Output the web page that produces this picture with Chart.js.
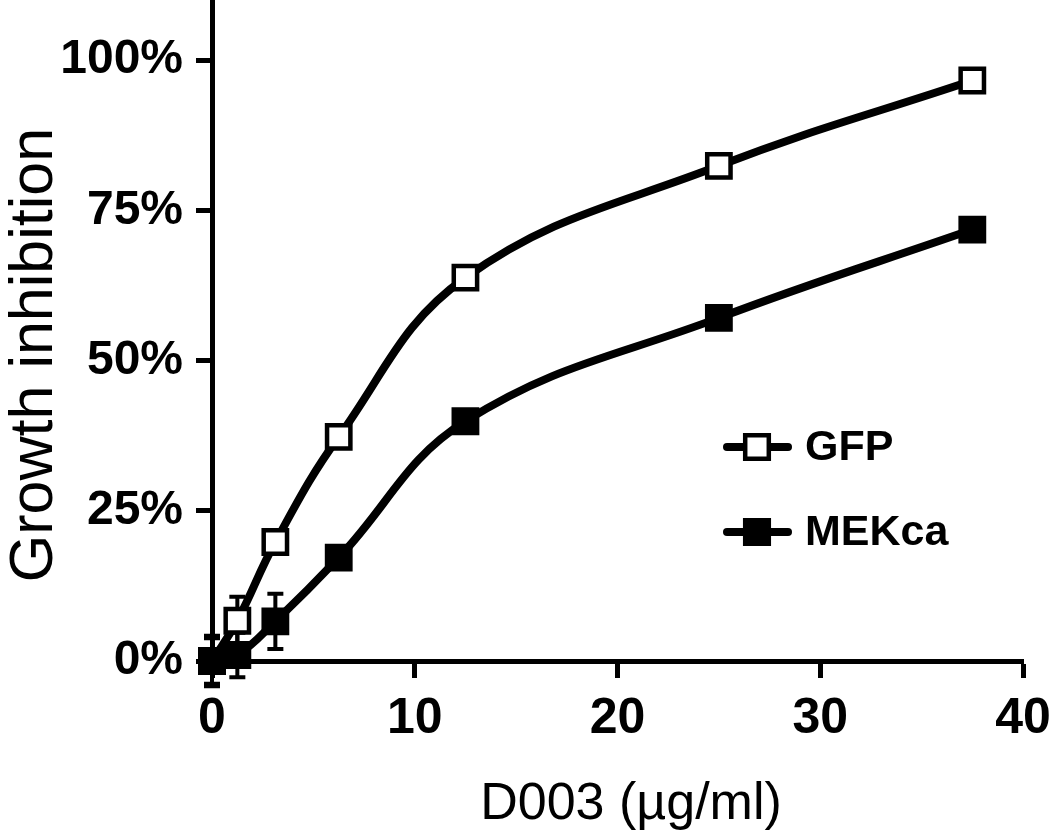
<!DOCTYPE html>
<html>
<head>
<meta charset="utf-8">
<script src="https://cdn.jsdelivr.net/npm/chart.js@4.4.1/dist/chart.umd.min.js"></script>
<style>
  html, body { margin: 0; padding: 0; background: #ffffff; }
  #wrap { width: 1050px; height: 830px; }
</style>
</head>
<body>
<div id="wrap"><canvas id="c" width="1050" height="830"></canvas></div>
<script>
// ---- data ----
const doses = [0, 1.25, 3.125, 6.25, 12.5, 25, 37.5];
const gfpValues = [0, 6.7, 19.8, 37.3, 63.8, 82.4, 96.6];
const mekValues = [0, 1.0, 6.6, 17.2, 39.9, 57.1, 71.8];
const gfpErrors = [3.8, 4.0, 1.5, 1.5, 1.5, 1.5, 1.5];
const mekErrors = [4.2, 3.7, 4.6, 1.5, 1.5, 1.5, 1.5];
const seriesNames = ['GFP', 'MEKca'];
const xTickValues = [0, 10, 20, 30, 40];
const yTickValues = [0, 25, 50, 75, 100];
const xTitle = 'D003 (\u00b5g/ml)';
const yTitle = 'Growth inhibition';

const FONT = "'Liberation Sans', Arial, Helvetica, sans-serif";

function toPoints(xs, ys) { return xs.map((x, i) => ({ x: x, y: ys[i] })); }

const errorBars = {
  id: 'errorBars',
  beforeDatasetsDraw(chart) {
    const ctx = chart.ctx;
    const xs = chart.scales.x, ys = chart.scales.y;
    const errs = [gfpErrors, mekErrors];
    ctx.save();
    ctx.strokeStyle = '#000';
    ctx.lineWidth = 4;
    chart.data.datasets.forEach((ds, di) => {
      ds.data.forEach((p, i) => {
        const e = errs[di][i];
        const px = xs.getPixelForValue(p.x);
        const yTop = ys.getPixelForValue(p.y + e);
        const yBot = ys.getPixelForValue(p.y - e);
        ctx.beginPath();
        ctx.moveTo(px, yTop); ctx.lineTo(px, yBot);
        ctx.moveTo(px - 8, yTop); ctx.lineTo(px + 8, yTop);
        ctx.moveTo(px - 8, yBot); ctx.lineTo(px + 8, yBot);
        ctx.stroke();
      });
    });
    ctx.restore();
  }
};

const decorations = {
  id: 'decorations',
  afterDraw(chart) {
    const ctx = chart.ctx;
    ctx.save();
    // legend
    const items = [
      { name: seriesNames[0], fill: '#ffffff', y: 447 },
      { name: seriesNames[1], fill: '#000000', y: 532 }
    ];
    items.forEach(it => {
      ctx.strokeStyle = '#000';
      ctx.lineWidth = 8;
      ctx.lineCap = 'round';
      ctx.beginPath();
      ctx.moveTo(727, it.y); ctx.lineTo(788, it.y);
      ctx.stroke();
      ctx.lineCap = 'butt';
      ctx.fillStyle = it.fill;
      ctx.lineWidth = 4.5;
      ctx.beginPath();
      ctx.rect(757 - 11.8, it.y - 11.8, 23.6, 23.6);
      ctx.fill();
      ctx.stroke();
      ctx.fillStyle = '#000';
      ctx.font = 'bold 43px ' + FONT;
      ctx.textAlign = 'left';
      ctx.textBaseline = 'middle';
      ctx.fillText(it.name, 805, it.y + 1);
    });
    // axis titles
    ctx.fillStyle = '#000';
    ctx.font = '52px ' + FONT;
    ctx.textAlign = 'center';
    ctx.textBaseline = 'alphabetic';
    ctx.fillText(xTitle, 631, 819);
    ctx.save();
    ctx.translate(52, 355);
    ctx.rotate(-Math.PI / 2);
    ctx.font = '61px ' + FONT;
    ctx.fillText(yTitle, 0, 0);
    ctx.restore();
    ctx.restore();
  }
};

new Chart(document.getElementById('c'), {
  type: 'line',
  data: {
    datasets: [
      {
        label: seriesNames[0],
        data: toPoints(doses, gfpValues),
        borderColor: '#000',
        borderWidth: 8,
        tension: 0.4,
        pointStyle: 'rect',
        pointRadius: 16.5,
        pointBorderWidth: 4.5,
        pointBorderColor: '#000',
        pointBackgroundColor: '#ffffff',
        clip: false,
        order: 1
      },
      {
        label: seriesNames[1],
        data: toPoints(doses, mekValues),
        borderColor: '#000',
        borderWidth: 8,
        tension: 0.4,
        pointStyle: 'rect',
        pointRadius: 16.5,
        pointBorderWidth: 4.5,
        pointBorderColor: '#000',
        pointBackgroundColor: '#000000',
        clip: false,
        order: 0
      }
    ]
  },
  options: {
    responsive: false,
    animation: false,
    events: [],
    layout: { autoPadding: false, padding: { top: 0, right: 27, left: 0, bottom: 0 } },
    plugins: { legend: { display: false }, tooltip: { enabled: false } },
    scales: {
      x: {
        type: 'linear',
        min: 0, max: 40,
        afterFit(s) { s.height = 169; s.paddingLeft = 0; s.paddingRight = 0; },
        afterBuildTicks(s) { s.ticks = xTickValues.map(v => ({ value: v })); },
        border: { display: true, color: '#000', width: 5 },
        grid: { display: true, drawOnChartArea: false, drawTicks: true, tickLength: 17, tickWidth: 5, tickColor: '#000' },
        ticks: {
          color: '#000',
          padding: 11,
          maxRotation: 0,
          font: { family: FONT, size: 50, weight: 'bold' },
          callback: v => String(v)
        }
      },
      y: {
        type: 'linear',
        min: 0, max: 110,
        afterFit(s) { s.width = 212; s.paddingTop = 0; s.paddingBottom = 0; },
        afterBuildTicks(s) { s.ticks = yTickValues.map(v => ({ value: v })); },
        border: { display: true, color: '#000', width: 5 },
        grid: { display: true, drawOnChartArea: false, drawTicks: true, tickLength: 16, tickWidth: 5, tickColor: '#000' },
        ticks: {
          color: '#000',
          padding: 13,
          font: { family: FONT, size: 48, weight: 'bold' },
          callback: v => v + '%'
        }
      }
    }
  },
  plugins: [errorBars, decorations]
});
</script>
</body>
</html>
